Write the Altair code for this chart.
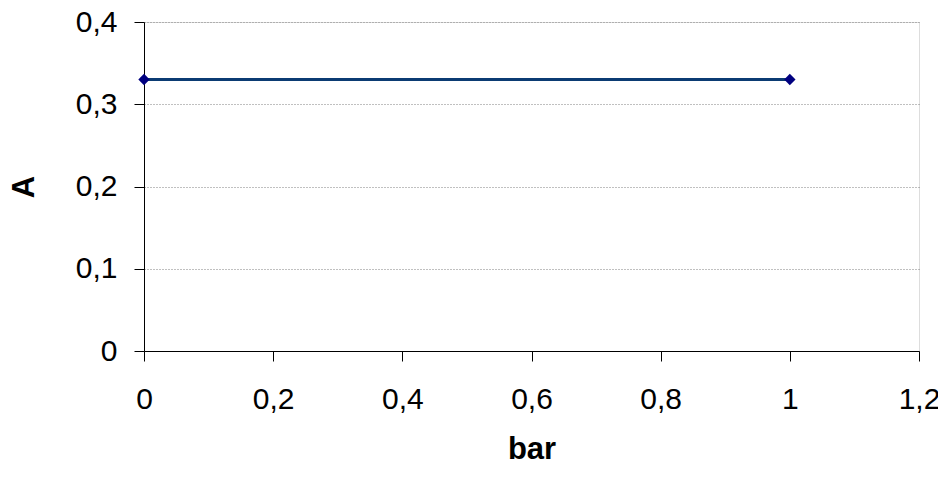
import altair as alt
import pandas as pd

x_vals = [0, 1]
y_vals = [0.33, 0.33]
x_ticks = [0, 0.2, 0.4, 0.6, 0.8, 1.0, 1.2]
y_ticks = [0, 0.1, 0.2, 0.3, 0.4]

df = pd.DataFrame({"bar": x_vals, "A": y_vals})

FONT = "Liberation Sans"
lab = "replace(toString(datum.value), '.', ',')"

x = alt.X("bar:Q", scale=alt.Scale(domain=[0, 1.2], nice=False),
          axis=alt.Axis(values=x_ticks, labelExpr=lab, title="bar", grid=False,
                        tickSize=10, labelPadding=23, titlePadding=20,
                        labelFontSize=30, titleFontSize=31, titleFontWeight="bold",
                        labelFont=FONT, titleFont=FONT, domainColor="black",
                        tickColor="black", labelColor="black", titleColor="black",
                        labelFlush=False, labelOverlap=False))
y = alt.Y("A:Q", scale=alt.Scale(domain=[0, 0.4], nice=False),
          axis=alt.Axis(values=y_ticks, labelExpr=lab, title="A", grid=True,
                        gridColor="#808080", gridDash=[1, 2], gridWidth=1,
                        tickSize=10, labelPadding=17, titlePadding=35,
                        labelFontSize=30, titleFontSize=31, titleFontWeight="bold",
                        labelFont=FONT, titleFont=FONT, domainColor="black",
                        tickColor="black", labelColor="black", titleColor="black",
                        labelFlush=False, labelOverlap=False))

line = alt.Chart(df).mark_line(color="#0b3b73", strokeWidth=3).encode(x=x, y=y)
pts = alt.Chart(df).mark_point(shape="diamond", filled=True, color="#000080",
                               size=130, opacity=1).encode(x="bar:Q", y="A:Q")

chart = (line + pts).properties(
    width=775, height=329,
    autosize=alt.AutoSizeParams(type="none"),
    padding={"left": 136, "top": 14, "right": 19, "bottom": 118},
).configure_view(stroke="#808080", strokeWidth=1).configure(background="white")

chart.save("out.html", embed_options={"renderer": "svg", "actions": False})
